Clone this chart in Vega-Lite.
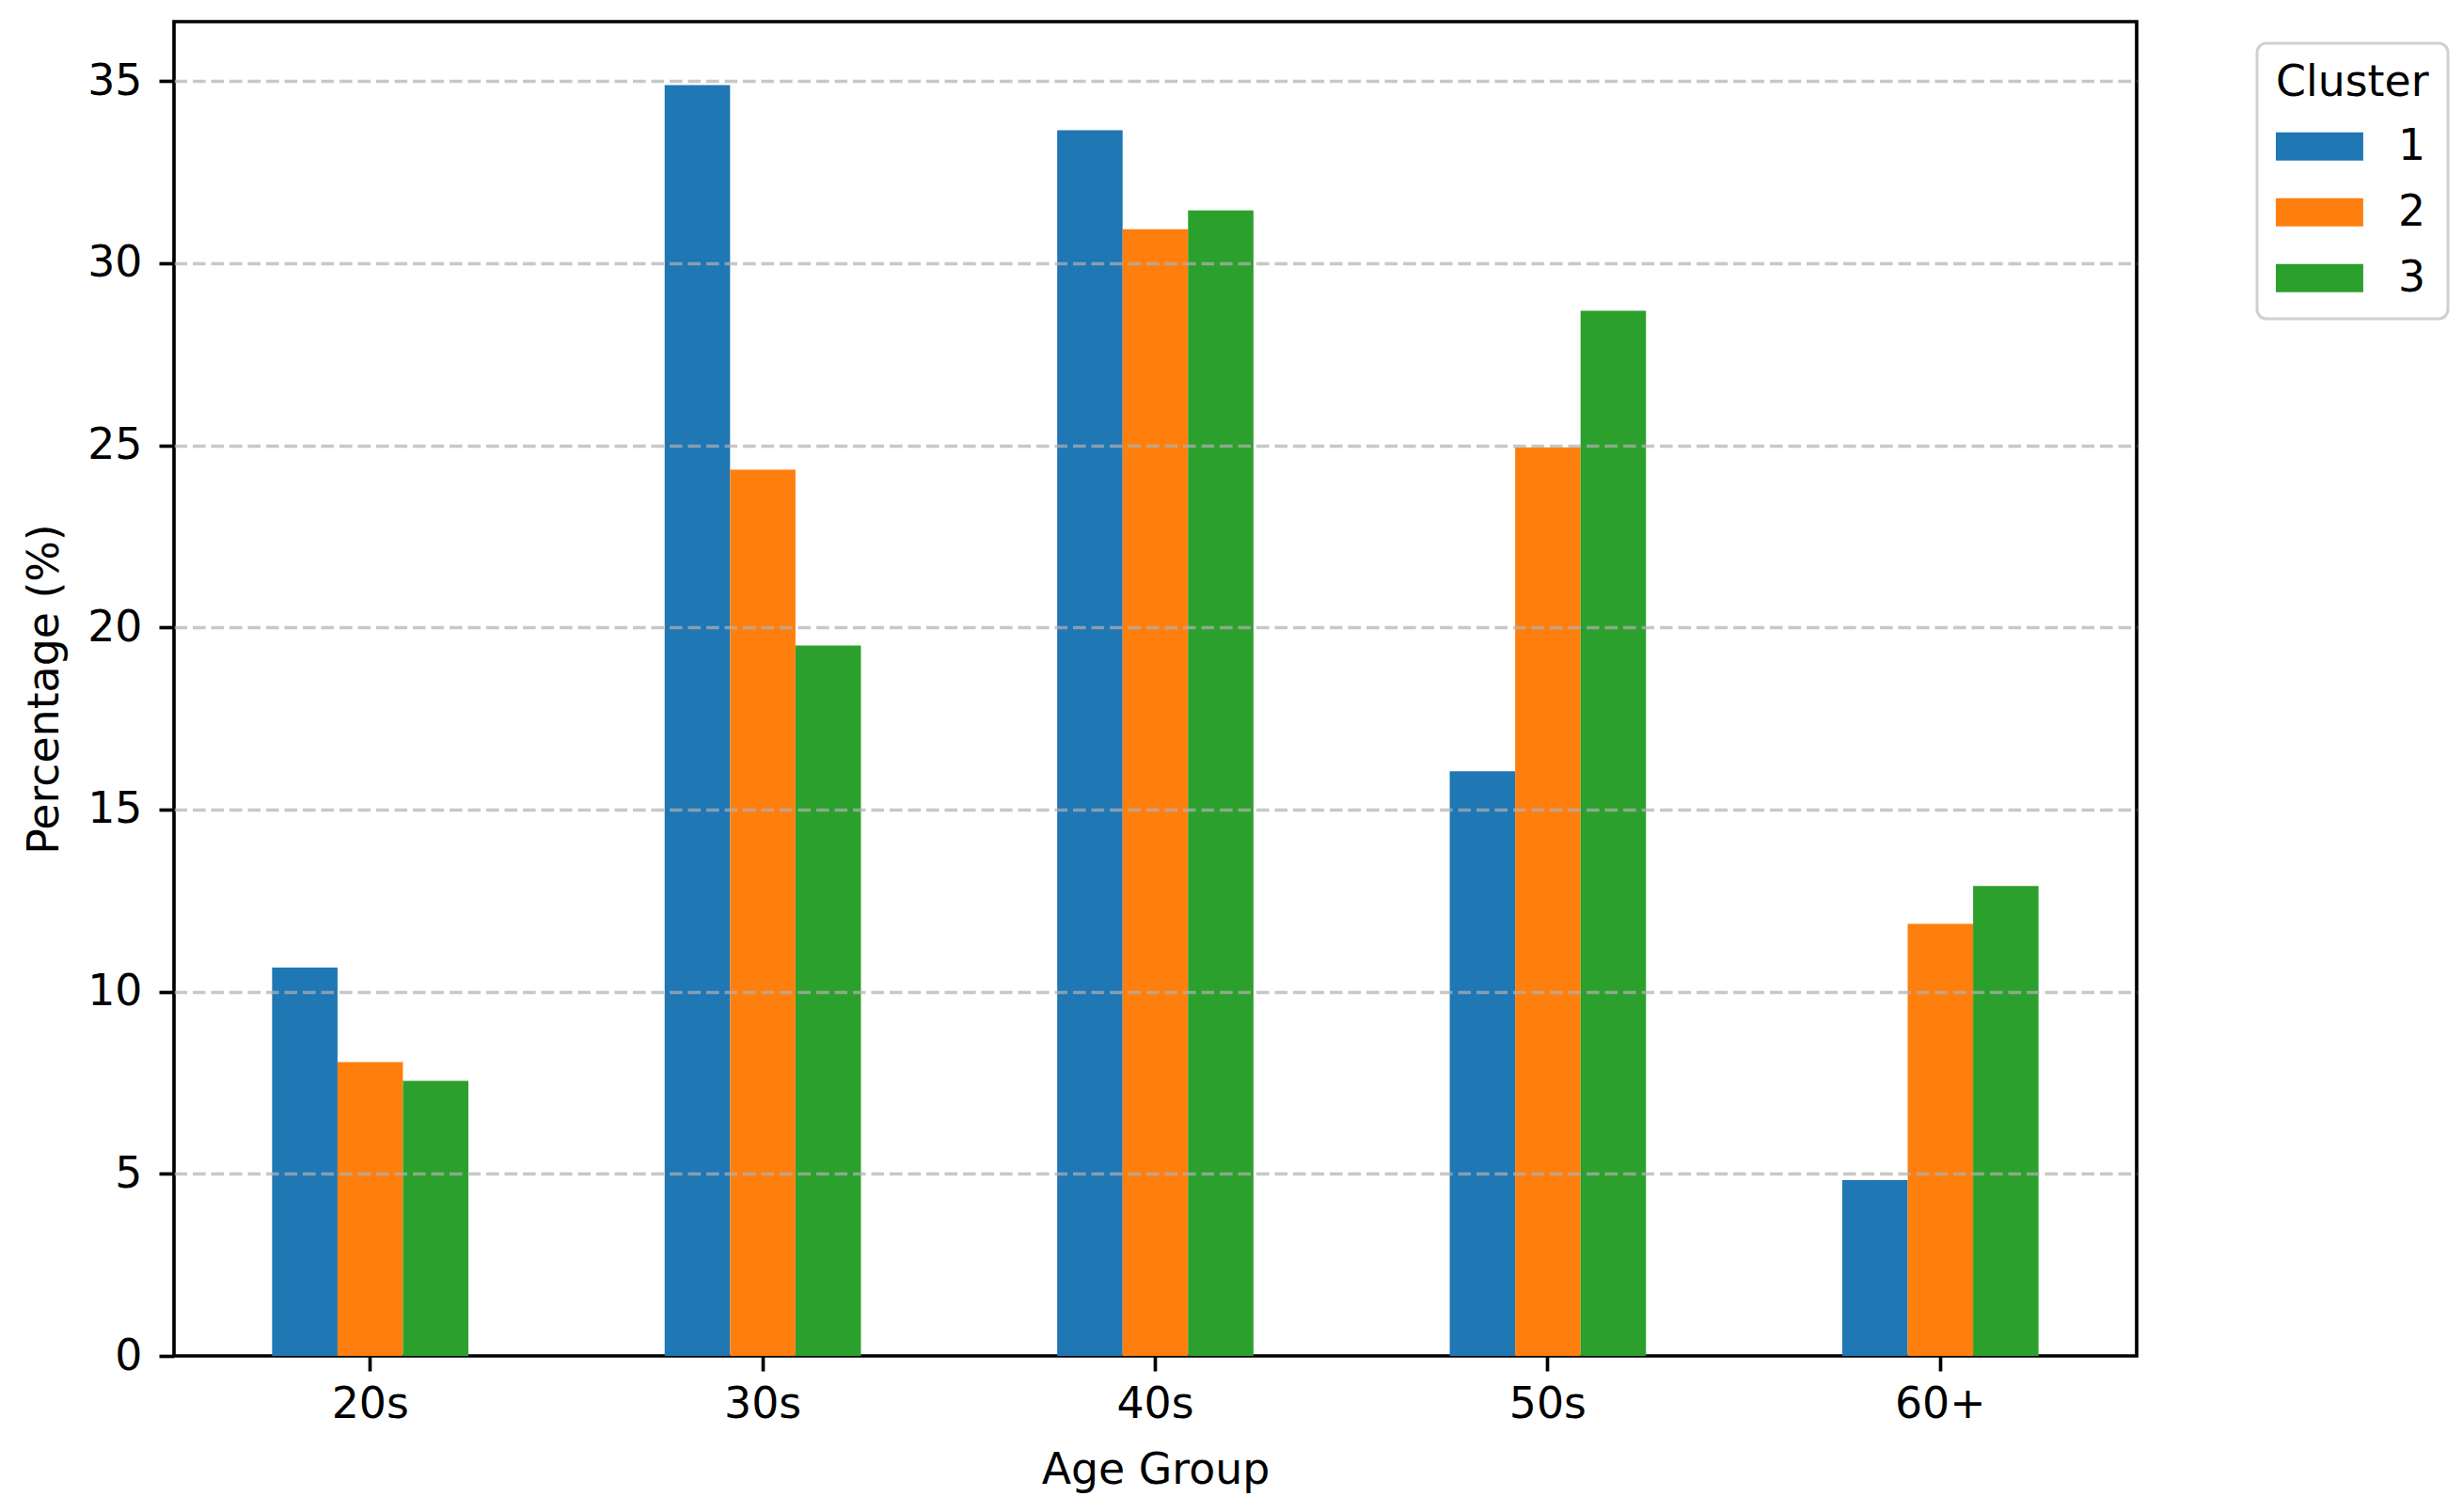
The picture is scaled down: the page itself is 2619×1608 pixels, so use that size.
{
  "$schema": "https://vega.github.io/schema/vega-lite/v6.json",
  "width": 2087,
  "height": 1419,
  "autosize": {"type": "none"},
  "padding": {"left": 185, "top": 23, "right": 347, "bottom": 166},
  "background": "white",
  "config": {
    "font": "DejaVu Sans",
    "view": {"stroke": "black", "strokeWidth": 3.67},
    "legend": {"strokeWidth": 3}
  },
  "data": {
    "values": [
      {"age": "20s", "cluster": "1", "pct": 10.66},
      {"age": "20s", "cluster": "2", "pct": 8.07},
      {"age": "20s", "cluster": "3", "pct": 7.55},
      {"age": "30s", "cluster": "1", "pct": 34.89},
      {"age": "30s", "cluster": "2", "pct": 24.33},
      {"age": "30s", "cluster": "3", "pct": 19.5},
      {"age": "40s", "cluster": "1", "pct": 33.65},
      {"age": "40s", "cluster": "2", "pct": 30.93},
      {"age": "40s", "cluster": "3", "pct": 31.45},
      {"age": "50s", "cluster": "1", "pct": 16.05},
      {"age": "50s", "cluster": "2", "pct": 24.94},
      {"age": "50s", "cluster": "3", "pct": 28.69},
      {"age": "60+", "cluster": "1", "pct": 4.83},
      {"age": "60+", "cluster": "2", "pct": 11.86},
      {"age": "60+", "cluster": "3", "pct": 12.9}
    ]
  },
  "mark": {"type": "bar"},
  "encoding": {
    "x": {
      "field": "age",
      "type": "nominal",
      "sort": ["20s", "30s", "40s", "50s", "60+"],
      "scale": {"paddingInner": 0.5, "paddingOuter": 0.25},
      "axis": {
        "title": "Age Group",
        "titleFontSize": 45.8,
        "titleFontWeight": "normal",
        "titleColor": "black",
        "titlePadding": 26,
        "labelFontSize": 45.8,
        "labelColor": "black",
        "labelAngle": 0,
        "labelPadding": 13,
        "tickSize": 16,
        "tickWidth": 3.67,
        "tickColor": "black",
        "domain": false,
        "grid": false
      }
    },
    "xOffset": {"field": "cluster", "type": "nominal"},
    "y": {
      "field": "pct",
      "type": "quantitative",
      "scale": {"domain": [0, 36.63], "nice": false},
      "axis": {
        "title": "Percentage (%)",
        "titleFontSize": 45.8,
        "titleFontWeight": "normal",
        "titleColor": "black",
        "titlePadding": 21,
        "labelFontSize": 45.8,
        "labelColor": "black",
        "labelPadding": 18,
        "values": [0, 5, 10, 15, 20, 25, 30, 35],
        "tickSize": 16,
        "tickWidth": 3.67,
        "tickColor": "black",
        "domain": false,
        "grid": true,
        "gridColor": "#b0b0b0",
        "gridOpacity": {"condition": {"test": "datum.value === 0", "value": 0}, "value": 0.7},
        "gridDash": [13.6, 5.9],
        "gridWidth": 3.67,
        "zindex": 1
      }
    },
    "color": {
      "field": "cluster",
      "type": "nominal",
      "scale": {"domain": ["1", "2", "3"], "range": ["#1f77b4", "#ff7f0e", "#2ca02c"]},
      "legend": {
        "title": "Cluster",
        "orient": "none",
        "legendX": 2215,
        "legendY": 23,
        "titleFontSize": 45.8,
        "titleFontWeight": "normal",
        "titleColor": "black",
        "titleAnchor": "start",
        "titlePadding": 21,
        "labelFontSize": 45.8,
        "labelColor": "black",
        "labelOffset": 84,
        "symbolType": "M-1,-0.65H3.04V0.65H-1Z",
        "symbolSize": 2116,
        "symbolStrokeWidth": 0,
        "symbolOpacity": 1,
        "rowPadding": 24,
        "strokeColor": "#d0d0d0",
        "fillColor": "white",
        "cornerRadius": 10,
        "padding": 20
      }
    }
  }
}
